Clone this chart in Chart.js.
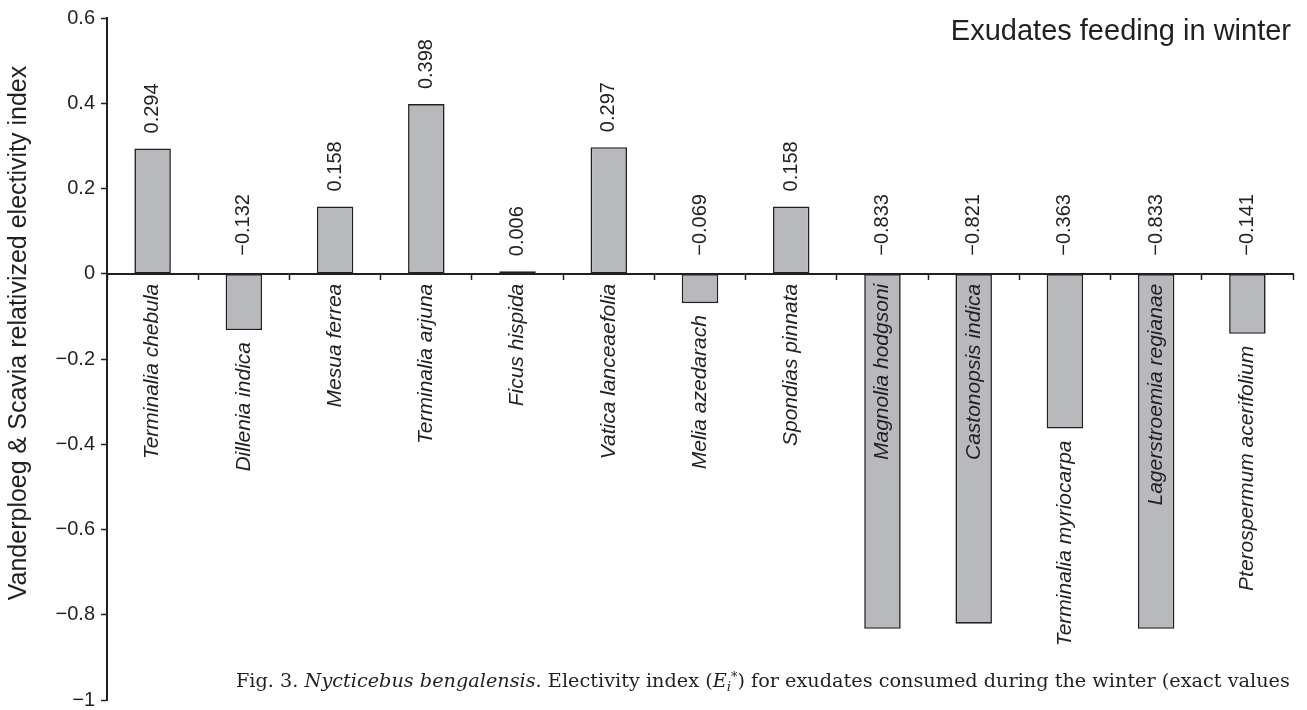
<!DOCTYPE html>
<html>
<head>
<meta charset="utf-8">
<title>Exudates feeding in winter</title>
<script src="https://cdn.jsdelivr.net/npm/chart.js@4/dist/chart.umd.min.js"></script>
<style>
  html, body { margin: 0; padding: 0; background: #ffffff; }
  canvas { display: block; }
</style>
</head>
<body>
<canvas id="chart" width="1307" height="710"></canvas>
<script>
// Tree species whose exudates were eaten in winter
const categories = [
  'Terminalia chebula', 'Dillenia indica', 'Mesua ferrea', 'Terminalia arjuna',
  'Ficus hispida', 'Vatica lanceaefolia', 'Melia azedarach', 'Spondias pinnata',
  'Magnolia hodgsoni', 'Castonopsis indica', 'Terminalia myriocarpa',
  'Lagerstroemia regianae', 'Pterospermum acerifolium'
];

// Vanderploeg & Scavia relativized electivity index (Ei*)
const electivity = [
  0.294, -0.132, 0.158, 0.398, 0.006, 0.297, -0.069, 0.158,
  -0.833, -0.821, -0.363, -0.833, -0.141
];

// Y axis range and spacing
const yMin = -1;
const yMax = 0.6;
const yStep = 0.2;

const chartTitle = 'Exudates feeding in winter';
const yAxisTitle = 'Vanderploeg & Scavia relativized electivity index';

const INK = '#231f20';
const SANS = '"Liberation Sans", Arial, Helvetica, sans-serif';
const SERIF = '"DejaVu Serif", "Liberation Serif", serif';

function minusSign(s) { return s.replace('-', '\u2212'); }
function fmtValue(v) { return minusSign(v.toFixed(3)); }
function fmtTick(v) {
  const r = Math.round(v * 10) / 10;
  return r === 0 ? '0' : minusSign(String(r));
}

// Value labels, species names, title and caption
const annotate = {
  id: 'annotate',
  afterDatasetsDraw(chart) {
    const ctx = chart.ctx;
    const meta = chart.getDatasetMeta(0);
    const zero = chart.scales.y.getPixelForValue(0);
    ctx.save();
    ctx.fillStyle = INK;
    meta.data.forEach((bar, i) => {
      const v = electivity[i];
      // value, read upward above the bar (or above the zero line)
      ctx.save();
      ctx.font = '20px ' + SANS;
      ctx.translate(bar.x, v >= 0 ? bar.y - 15 : zero - 18);
      ctx.rotate(-Math.PI / 2);
      ctx.textAlign = 'left';
      ctx.textBaseline = 'middle';
      ctx.fillText(fmtValue(v), 0, 0);
      ctx.restore();

      // species name: inside a long bar, otherwise just under the bar
      ctx.save();
      ctx.font = 'italic 21px ' + SANS;
      const w = ctx.measureText(categories[i]).width;
      const len = v < 0 ? bar.y - zero : 0;
      const top = (v < 0 && len < w + 24) ? bar.y + 12 : zero + 10;
      ctx.translate(bar.x, top);
      ctx.rotate(-Math.PI / 2);
      ctx.textAlign = 'right';
      ctx.textBaseline = 'middle';
      ctx.fillText(categories[i], 0, 0);
      ctx.restore();
    });
    ctx.restore();
  },
  afterDraw(chart) {
    const ctx = chart.ctx;
    const area = chart.chartArea;
    ctx.save();
    ctx.fillStyle = INK;

    // panel title, top right
    ctx.font = '29px ' + SANS;
    ctx.textAlign = 'right';
    ctx.textBaseline = 'alphabetic';
    ctx.fillText(chartTitle, area.right - 2, 40);

    // y axis title
    ctx.save();
    ctx.font = '25px ' + SANS;
    ctx.translate(19, (area.top + area.bottom) / 2 - 26);
    ctx.rotate(-Math.PI / 2);
    ctx.textAlign = 'center';
    ctx.textBaseline = 'middle';
    ctx.fillText(yAxisTitle, 0, 0);
    ctx.restore();

    // figure caption
    const segs = [
      { t: 'Fig. 3. ', f: '' },
      { t: 'Nycticebus bengalensis.', f: 'italic ' },
      { t: ' Electivity index (', f: '' },
      { t: 'E', f: 'italic ' },
      { t: 'i', f: 'italic ', sub: true },
      { t: '*', f: '', sup: true },
      { t: ') for exudates consumed during the winter (exact values', f: '' }
    ];
    const startX = 236, endX = 1290, base = 687;
    const sizeAt = (s, seg) => (seg.sub || seg.sup) ? s * 0.68 : s;
    const measure = (s) => segs.reduce((acc, seg) => {
      ctx.font = seg.f + sizeAt(s, seg) + 'px ' + SERIF;
      return acc + ctx.measureText(seg.t).width;
    }, 0);
    const size = 17 * (endX - startX) / measure(17);
    ctx.textAlign = 'left';
    let x = startX;
    segs.forEach(seg => {
      ctx.font = seg.f + sizeAt(size, seg) + 'px ' + SERIF;
      const dy = seg.sub ? 4 : (seg.sup ? -6 : 0);
      ctx.fillText(seg.t, x, base + dy);
      x += ctx.measureText(seg.t).width;
    });
    ctx.restore();
  }
};

new Chart(document.getElementById('chart'), {
  type: 'bar',
  data: {
    labels: categories,
    datasets: [{
      data: electivity,
      backgroundColor: '#b8b9bc',
      borderColor: INK,
      borderWidth: 1.6,
      borderSkipped: false,
      barPercentage: 0.4,
      categoryPercentage: 1.0
    }]
  },
  options: {
    responsive: false,
    animation: false,
    layout: { padding: { top: 18, right: 14, bottom: 10, left: 0 } },
    plugins: {
      legend: { display: false },
      tooltip: { enabled: false },
      title: { display: false }
    },
    scales: {
      x: {
        position: { y: 0 },
        offset: true,
        grid: {
          offset: true,
          drawOnChartArea: false,
          drawTicks: true,
          tickLength: 5,
          tickColor: INK,
          tickWidth: 1.5
        },
        border: { display: true, color: INK, width: 2 },
        ticks: { display: false },
        afterFit(scale) {
          scale.height = 0;
          scale.paddingLeft = 0; scale.paddingRight = 0;
          scale.paddingTop = 0; scale.paddingBottom = 0;
        }
      },
      y: {
        min: yMin,
        max: yMax,
        ticks: {
          stepSize: yStep,
          color: INK,
          padding: 6,
          font: { family: SANS, size: 20 },
          callback: (v) => fmtTick(v)
        },
        grid: {
          drawOnChartArea: false,
          drawTicks: true,
          tickLength: 6,
          tickColor: INK,
          tickWidth: 1.5
        },
        border: { display: true, color: INK, width: 2 },
        afterFit(scale) {
          scale.width = 107;
          scale.paddingTop = 0; scale.paddingBottom = 0;
        }
      }
    }
  },
  plugins: [annotate]
});
</script>
</body>
</html>
